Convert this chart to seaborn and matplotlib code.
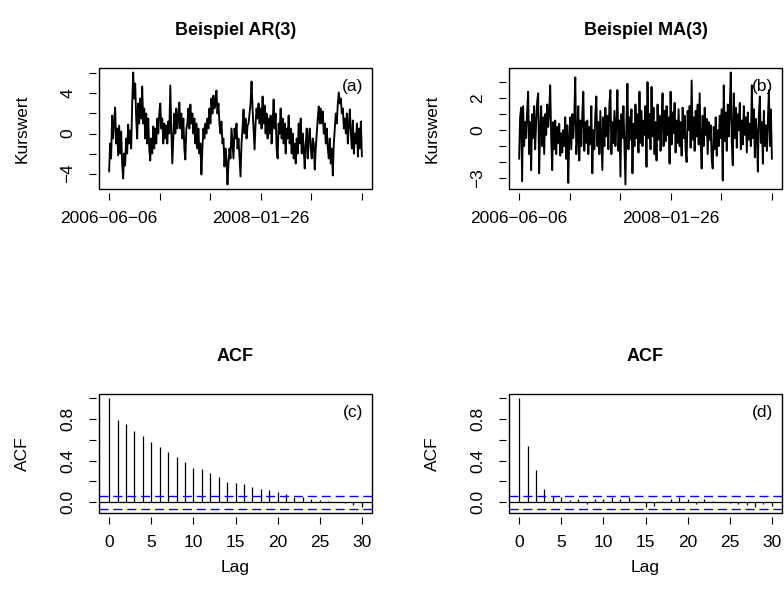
import numpy as np
import matplotlib
matplotlib.use("Agg")
import matplotlib.pyplot as plt
import seaborn as sns
from matplotlib.patches import Rectangle

# Werte (ca. ein Wert je Pixelspalte)
ar3 = [
    -3.8, -1.0, -2.5, 1.8, -0.5, 1.2, 2.6, -1.0, 0.5, -2.2,
    0.8, -2.0, 0.2, -3.0, -4.5, -2.0, -3.2, -0.5, -2.0, 0.9,
    -1.0, 0.3, -1.5, 3.0, 6.1, 3.5, 5.0, 1.5, -0.5, 3.0,
    1.0, 3.5, 1.5, 4.7, 1.0, 2.5, -0.5, 2.0, -1.0, 1.5,
    -1.5, -2.7, -0.5, -2.0, 0.7, -1.5, 0.5, -1.0, 1.5, 0.0,
    2.0, 3.0, 0.5, 1.5, -1.0, 1.0, -0.5, 0.8, -1.0, 1.2,
    0.0, 4.8, 0.5, -3.0, -0.5, 2.0, 0.0, 2.5, 0.5, 1.5,
    3.1, 0.5, 2.0, -0.5, 1.5, -1.5, -2.6, 0.5, 1.0, 2.5,
    0.5, 2.9, 1.0, 2.0, 0.0, 1.5, -1.0, 1.0, -1.5, 0.5,
    -2.0, -1.0, -4.1, -1.5, 0.5, -0.5, 1.0, 0.0, 1.5, 0.5,
    2.5, 1.0, 3.5, 2.0, 3.8, 2.5, 3.0, 4.3, 2.0, 3.0,
    1.0, 0.0, 1.2, -1.0, -0.5, -3.3, -1.5, -2.5, -5.1, -3.0,
    -1.5, -2.5, 0.5, -1.0, -2.5, 0.5, -0.5, 1.0, -1.5, -0.5,
    -2.5, -4.3, -1.0, 0.5, 2.4, 0.0, 1.5, -0.5, 0.8, 1.0,
    2.0, 3.0, 5.2, 2.5, 0.5, -1.6, 1.0, 2.5, 1.5, 3.0,
    1.0, 2.5, 0.5, 3.7, 1.0, 2.8, 0.0, 2.0, -0.5, 1.5,
    0.0, 1.8, -1.0, 1.0, 3.4, 0.5, 2.0, -1.5, -2.5, 1.0,
    0.0, 2.5, -0.5, 1.5, -1.0, 1.0, -2.0, 0.5, -0.5, 1.8,
    -1.0, 0.5, -2.0, 0.0, -2.5, -1.0, -3.0, -0.5, -2.0, 1.0,
    -1.0, 1.5, -2.0, 0.0, -1.5, -3.5, -1.0, 0.5, -2.5, -0.5,
    0.5, -1.5, -2.5, -0.5, -1.0, -3.6, -1.5, 0.0, 1.5, 2.7,
    1.0, 2.5, 1.0, 2.2, 0.0, 1.0, -1.0, 0.5, -1.5, -2.5,
    -0.5, -3.0, -1.5, -4.2, -1.0, 0.5, 2.0, 1.0, 3.0, 4.1,
    3.0, 3.5, 2.0, 2.5, 0.5, 1.5, 0.0, 2.0, -1.0, 1.0,
    2.4, 0.0, -1.5, 1.3, -2.0, 0.0, -1.0, 1.0, -2.3, 0.5,
    -1.5, 1.2, -2.3,
]

ma3 = [
    -1.8, 0.8, 1.4, -3.2, 1.5, -1.0, 0.5, -0.5, 1.2, 2.4,
    -1.5, 0.5, -2.5, 1.0, -0.5, 1.5, -1.2, 0.5, 1.8, 2.3,
    -2.7, 0.0, 1.5, -1.0, 0.8, -1.5, 1.0, -0.3, 1.6, 0.2,
    1.2, 2.8, -0.5, -2.5, 0.5, -1.2, 0.6, -1.5, 0.2, -0.8,
    0.4, -1.6, -0.2, -1.4, 0.0, -1.0, 0.8, -1.8, 0.3, -3.3,
    -0.5, 0.8, -1.2, 1.0, -0.5, 0.9, 3.3, -1.5, -0.5, 1.5,
    -1.9, 0.6, -1.0, 1.0, 2.4, -1.3, 0.5, -0.8, 0.6, -1.5,
    0.2, -0.9, 1.5, -2.7, 0.0, -1.2, 1.0, 2.1, -1.0, 0.5,
    -1.5, 1.2, -0.6, -2.5, 0.8, -1.0, 1.4, -0.4, 0.9, -1.2,
    1.6, 2.5, -1.5, 0.5, -0.8, 1.2, -1.0, 0.3, 2.5, -1.3,
    0.6, -2.9, 1.0, -0.5, 1.5, -1.0, -3.4, 0.5, 2.9, -1.2,
    0.8, -0.6, 1.3, -2.7, 0.4, -1.0, 1.6, -0.5, 1.0, -1.4,
    2.4, -0.8, 1.2, -1.0, 0.6, -0.3, 1.5, -2.3, 3.0, -0.5,
    1.0, -1.2, 2.7, -0.4, 1.4, -1.5, 0.5, -1.9, 1.6, -0.6,
    0.9, -1.3, 0.4, 2.3, -1.0, 1.2, -0.7, 1.5, -0.3, 0.8,
    -2.1, 2.4, -0.9, 1.1, -0.2, 1.7, -1.4, 0.6, -0.8, 1.3,
    -1.0, 0.5, -1.6, 1.4, -0.5, 0.9, -1.2, -2.0, 1.2, 0.0,
    1.5, -1.1, 3.1, -0.6, 0.8, -1.3, 1.2, -0.4, 1.6, -0.9,
    2.3, -0.7, -2.4, 0.9, -1.0, 1.4, -0.3, 0.7, -1.5, 0.5,
    -0.6, 0.3, -1.8, -2.4, 0.2, -1.2, 0.8, -1.6, 0.0, -1.0,
    0.9, -0.5, 1.3, -3.15, 2.8, -0.7, 1.1, -1.3, 1.6, -0.4,
    1.2, 3.6, -0.8, -2.2, 2.3, -0.5, 1.4, -1.1, 1.0, 0.0,
    1.7, -1.2, 0.6, -0.9, 1.5, -0.3, 0.8, -1.4, 1.1, -0.6,
    0.4, -1.0, 2.8, -0.5, 1.3, -1.7, 0.7, -0.2, -2.6, 1.0,
    2.1, -0.8, 0.5, -2.1, 1.2, -1.0, 0.3, -1.3, 0.6, 2.5,
    -1.0, 1.3, -1.8,
]

lags = list(range(31))
acf_ar3 = [1.0, 0.794, 0.753, 0.683, 0.635, 0.58, 0.533, 0.48, 0.434, 0.383,
           0.332, 0.316, 0.278, 0.242, 0.198, 0.188, 0.172, 0.15, 0.124, 0.118,
           0.102, 0.08, 0.054, 0.051, 0.029, 0.016, 0.01, 0.003, -0.01, -0.032,
           -0.051]
acf_ma3 = [1.0, 0.539, 0.306, 0.131, 0.061, 0.045, 0.019, 0.029, -0.019, 0.029,
           0.029, 0.054, 0.029, 0.051, 0.006, -0.045, -0.035, 0.013, 0.029, 0.051,
           0.035, -0.013, 0.029, 0.013, 0.006, -0.006, -0.019, -0.026, -0.045, -0.02,
           -0.04]
conf = 0.062  # 1.96 / sqrt(n)

date_labels = ["2006\u221206\u221206", "", "", "2008\u221201\u221226", "", ""]

sns.set_theme(style="white")
plt.rcParams['font.family'] = ['Liberation Sans', 'DejaVu Sans']
plt.rcParams['text.color'] = 'black'
plt.rcParams['axes.labelcolor'] = 'black'

FS = 12.5
W, H = 784, 605
fig = plt.figure(figsize=(W / 100, H / 100), dpi=100)


def px_axes(l, t, r, b):
    return fig.add_axes([l / W, 1 - b / H, (r - l) / W, (b - t) / H])


def r_style(ax):
    for s in ax.spines.values():
        s.set_visible(False)
    ax.spines['left'].set_position(('outward', 2))
    ax.spines['bottom'].set_position(('outward', 3))
    ax.add_patch(Rectangle((0, 0), 1, 1, transform=ax.transAxes, fill=False,
                           lw=1.0, ec='black', zorder=6, clip_on=False))
    ax.tick_params(direction='out', length=5, width=0.8, colors='black',
                   labelsize=FS, bottom=True, left=True)
    ax.tick_params(axis='x', pad=8)
    ax.tick_params(axis='y', pad=10)
    ax.grid(False)


def decorate(ax, title, ylabel, tag):
    ax.set_title(title, fontsize=13, fontweight='bold', pad=24, color='black')
    ax.set_ylabel(ylabel, fontsize=FS)
    ax.yaxis.set_label_coords(-0.282, 0.5)
    ax.yaxis.label.set_va('center')
    ax.text(0.967, 0.905, tag, transform=ax.transAxes, ha='right', va='top',
            fontsize=FS)


def ylim_r(vals):
    lo, hi = min(vals), max(vals)
    pad = 0.04 * (hi - lo)
    return lo - pad, hi + pad


def ts_panel(ax, vals, title, yticks, ylabels, tag):
    r_style(ax)
    t = np.arange(len(vals))
    sns.lineplot(x=t, y=vals, ax=ax, color='black', lw=1.35)
    n1 = len(vals) - 1
    ax.set_xlim(-0.04 * n1, 1.04 * n1)
    ax.set_ylim(*ylim_r(vals))
    ax.set_xticks(np.linspace(0, n1, 6))
    ax.set_xticklabels(date_labels)
    ax.set_yticks(yticks)
    ax.set_yticklabels(ylabels, rotation=90, va='center')
    ax.set_xlabel("")
    decorate(ax, title, "Kurswert", tag)


def acf_panel(ax, vals, tag):
    r_style(ax)
    ax.vlines(lags, 0, vals, color='black', lw=0.9)
    ax.axhline(0, color='black', lw=0.9)
    for c in (conf, -conf):
        ax.axhline(c, color='blue', lw=1.0, ls=(0, (6.5, 3.5)))
    ax.set_xlim(-1.2, 31.2)
    ax.set_ylim(*ylim_r(vals + [-conf]))
    ax.set_xticks(range(0, 31, 5))
    ax.set_yticks([0, 0.2, 0.4, 0.6, 0.8, 1.0])
    ax.set_yticklabels(["0.0", "", "0.4", "", "0.8", ""], rotation=90, va='center')
    decorate(ax, "ACF", "ACF", tag)
    ax.set_xlabel("Lag", fontsize=FS)
    ax.xaxis.set_label_coords(0.5, -0.454)
    ax.xaxis.label.set_va('center')


ax_a = px_axes(99, 68, 372, 189)
ts_panel(ax_a, ar3, "Beispiel AR(3)", [-4, -2, 0, 2, 4, 6],
         ["\u22124", "", "0", "", "4", ""], "(a)")
ax_b = px_axes(509, 68, 782, 189)
ts_panel(ax_b, ma3, "Beispiel MA(3)", [-3, -2, -1, 0, 1, 2, 3],
         ["\u22123", "", "", "0", "", "2", ""], "(b)")
ax_c = px_axes(99, 394, 372, 513)
acf_panel(ax_c, acf_ar3, "(c)")
ax_d = px_axes(509, 394, 782, 513)
acf_panel(ax_d, acf_ma3, "(d)")

fig.savefig("out.png", dpi=100)
